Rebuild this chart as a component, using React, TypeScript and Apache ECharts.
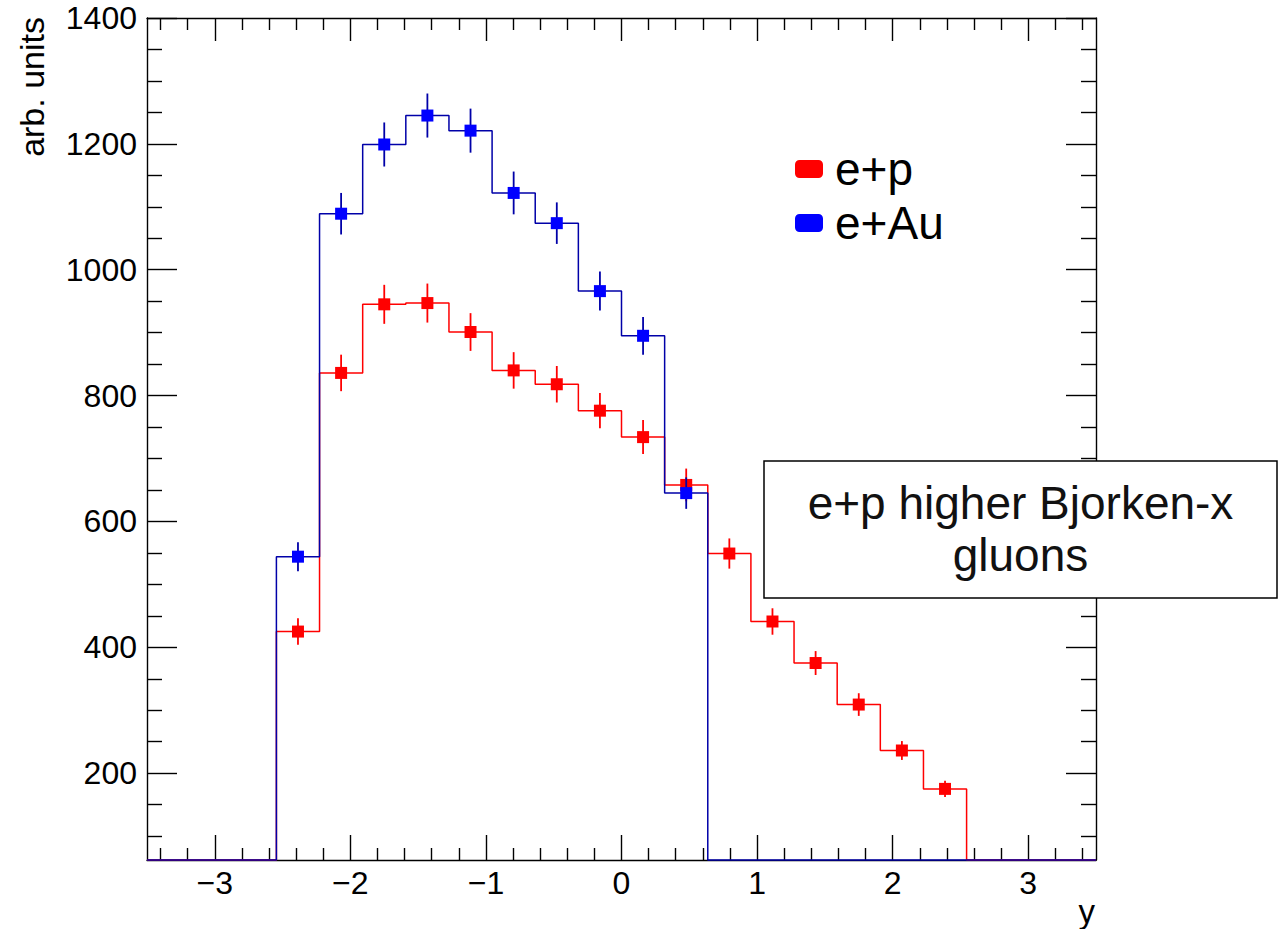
import React, { useEffect, useRef } from "react";
import * as echarts from "echarts";

// Histogram binning: 22 bins from -3.5 to 3.5 (bin edges)
const binEdges = [
  -3.5, -3.1818, -2.8636, -2.5455, -2.2273, -1.9091, -1.5909, -1.2727, -0.9545, -0.6364, -0.3182, 0,
  0.3182, 0.6364, 0.9545, 1.2727, 1.5909, 1.9091, 2.2273, 2.5455, 2.8636, 3.1818, 3.5,
];

// e+p (red) bin contents and errors
const epValues = [0, 0, 0, 425, 836, 945, 947, 901, 840, 818, 776, 734, 658, 549, 441, 375, 309, 236, 175, 0, 0, 0];
const epErrors = [0, 0, 0, 21, 29, 31, 31, 30, 29, 29, 28, 27, 26, 24, 21, 19, 18, 15, 13, 0, 0, 0];

// e+Au (blue) bin contents and errors
const auValues = [0, 0, 0, 544, 1089, 1199, 1245, 1221, 1122, 1074, 966, 895, 645, 0, 0, 0, 0, 0, 0, 0, 0, 0];
const auErrors = [0, 0, 0, 23, 33, 35, 35, 35, 34, 33, 31, 30, 25, 0, 0, 0, 0, 0, 0, 0, 0, 0];

// Axis ticks
const X_MIN = -3.5;
const X_MAX = 3.5;
const Y_MIN = 62;
const Y_MAX = 1400;
const xMajorTicks = [-3, -2, -1, 0, 1, 2, 3];
const yMajorTicks = [200, 400, 600, 800, 1000, 1200, 1400];

const FONT = "'Liberation Sans', Arial, Helvetica, sans-serif";
const RED = "#ff0000";
const BLUE_MARK = "#0000ff";
const BLUE_LINE = "#0000a8";

function minorTicks(lo: number, hi: number, step: number, majors: number[]) {
  const out: number[] = [];
  const n = Math.round((hi - lo) / step);
  for (let i = 0; i <= n; i++) {
    const v = Math.round((lo + i * step) * 1000) / 1000;
    if (!majors.some((m) => Math.abs(m - v) < 1e-6)) out.push(v);
  }
  return out;
}

const xMinorTicks = minorTicks(-3.4, 3.4, 0.2, xMajorTicks);
const yMinorTicks = minorTicks(100, 1350, 50, yMajorTicks);

function stepPoints(values: number[]) {
  const pts: number[][] = [];
  for (let i = 0; i < values.length; i++) {
    const v = Math.max(values[i], Y_MIN);
    pts.push([binEdges[i], v]);
    pts.push([binEdges[i + 1], v]);
  }
  return pts;
}

function markerPoints(values: number[], errors: number[]) {
  const pts: number[][] = [];
  for (let i = 0; i < values.length; i++) {
    if (values[i] > 0) {
      pts.push([(binEdges[i] + binEdges[i + 1]) / 2, values[i], errors[i]]);
    }
  }
  return pts;
}

const axisLineStyle = { color: "#000", width: 1.4 };

function makeXAxis(position: "top" | "bottom", major: boolean, withLabels: boolean) {
  return {
    type: "value",
    min: X_MIN,
    max: X_MAX,
    position,
    gridIndex: 0,
    axisLine: { show: major, onZero: false, lineStyle: axisLineStyle },
    axisTick: {
      show: true,
      inside: true,
      length: major ? (position === "bottom" ? 25 : 23) : 12,
      customValues: major ? xMajorTicks : xMinorTicks,
      lineStyle: axisLineStyle,
    },
    axisLabel: withLabels
      ? {
          show: true,
          customValues: xMajorTicks,
          margin: 7,
          fontSize: 32,
          fontFamily: FONT,
          color: "#000",
          formatter: (v: number) => (v < 0 ? "\u2212" + Math.abs(v) : String(v)),
        }
      : { show: false },
    splitLine: { show: false },
  };
}

function makeYAxis(position: "left" | "right", major: boolean, withLabels: boolean) {
  return {
    type: "value",
    min: Y_MIN,
    max: Y_MAX,
    position,
    gridIndex: 0,
    axisLine: { show: major, onZero: false, lineStyle: axisLineStyle },
    axisTick: {
      show: true,
      inside: true,
      length: major ? 30 : 15,
      customValues: major ? yMajorTicks : yMinorTicks,
      lineStyle: axisLineStyle,
    },
    axisLabel: withLabels
      ? {
          show: true,
          customValues: yMajorTicks,
          margin: 10,
          fontSize: 32,
          fontFamily: FONT,
          color: "#000",
          formatter: (v: number) => String(v),
        }
      : { show: false },
    splitLine: { show: false },
  };
}

function errorSeries(name: string, data: number[][], color: string, z: number) {
  return {
    name,
    type: "custom",
    xAxisIndex: 0,
    yAxisIndex: 0,
    z,
    clip: false,
    encode: { x: 0, y: 1 },
    data,
    renderItem: (params: any, api: any) => {
      const x = api.value(0);
      const v = api.value(1);
      const e = api.value(2);
      const p1 = api.coord([x, v - e]);
      const p2 = api.coord([x, v + e]);
      return {
        type: "line",
        shape: { x1: p1[0], y1: p1[1], x2: p2[0], y2: p2[1] },
        style: { stroke: color, lineWidth: 1.8 },
      };
    },
  };
}

export default function App() {
  const ref = useRef<HTMLDivElement>(null);

  useEffect(() => {
    if (!ref.current) return;
    const chart = echarts.init(ref.current, undefined, { renderer: "svg" });
    const epMarks = markerPoints(epValues, epErrors);
    const auMarks = markerPoints(auValues, auErrors);

    const option: any = {
      animation: false,
      backgroundColor: "#fff",
      textStyle: { fontFamily: FONT },
      grid: { left: 147, top: 18, width: 949, height: 842, containLabel: false },
      xAxis: [
        makeXAxis("bottom", true, true),
        makeXAxis("bottom", false, false),
        makeXAxis("top", true, false),
        makeXAxis("top", false, false),
      ],
      yAxis: [
        makeYAxis("left", true, true),
        makeYAxis("left", false, false),
        makeYAxis("right", true, false),
        makeYAxis("right", false, false),
      ],
      legend: {
        orient: "vertical",
        left: 790,
        top: 141,
        itemWidth: 28,
        itemHeight: 18,
        itemGap: 8,
        icon: "roundRect",
        selectedMode: false,
        textStyle: { fontSize: 46, lineHeight: 46, color: "#000", fontFamily: FONT, padding: [0, 0, 0, 7] },
        data: [
          { name: "e+p", itemStyle: { color: RED } },
          { name: "e+Au", itemStyle: { color: BLUE_MARK } },
        ],
      },
      series: [
        {
          name: "e+p hist",
          type: "line",
          xAxisIndex: 0,
          yAxisIndex: 0,
          z: 2,
          clip: false,
          symbol: "none",
          data: stepPoints(epValues),
          lineStyle: { color: RED, width: 1.5 },
          itemStyle: { color: RED },
        },
        errorSeries("e+p errors", epMarks, RED, 3),
        {
          name: "e+p",
          type: "scatter",
          xAxisIndex: 0,
          yAxisIndex: 0,
          z: 4,
          symbol: "rect",
          symbolSize: 12,
          data: epMarks.map((p) => [p[0], p[1]]),
          itemStyle: { color: RED, opacity: 1 },
        },
        {
          name: "e+Au hist",
          type: "line",
          xAxisIndex: 0,
          yAxisIndex: 0,
          z: 5,
          clip: false,
          symbol: "none",
          data: stepPoints(auValues),
          lineStyle: { color: BLUE_LINE, width: 1.5 },
          itemStyle: { color: BLUE_LINE },
        },
        errorSeries("e+Au errors", auMarks, BLUE_LINE, 6),
        {
          name: "e+Au",
          type: "scatter",
          xAxisIndex: 0,
          yAxisIndex: 0,
          z: 7,
          symbol: "rect",
          symbolSize: 12,
          data: auMarks.map((p) => [p[0], p[1]]),
          itemStyle: { color: BLUE_MARK, opacity: 1 },
        },
      ],
      graphic: [
        {
          type: "text",
          x: 32,
          y: 17,
          rotation: Math.PI / 2,
          style: {
            text: "arb. units",
            font: `34px ${FONT}`,
            fill: "#000",
            align: "right",
            verticalAlign: "middle",
          },
        },
        {
          type: "text",
          x: 1095,
          y: 911,
          style: {
            text: "y",
            font: `33px ${FONT}`,
            fill: "#000",
            align: "right",
            verticalAlign: "middle",
          },
        },
        {
          type: "rect",
          z: 100,
          shape: { x: 764, y: 461, width: 513, height: 137 },
          style: { fill: "#fff", stroke: "#000", lineWidth: 1.5 },
        },
        {
          type: "text",
          z: 101,
          x: 1020.5,
          y: 529,
          style: {
            text: "e+p higher Bjorken-x\ngluons",
            font: `46px ${FONT}`,
            lineHeight: 52,
            fill: "#111",
            align: "center",
            verticalAlign: "middle",
          },
        },
      ],
    };

    chart.setOption(option);
    return () => chart.dispose();
  }, []);

  return (
    <div
      ref={ref}
      style={{ position: "fixed", left: 0, top: 0, width: 1281, height: 929, background: "#fff" }}
    />
  );
}
